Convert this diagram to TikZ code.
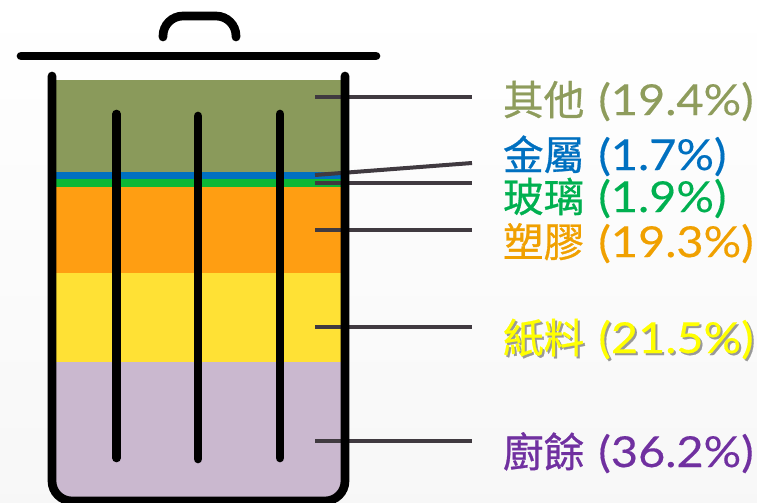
\documentclass[tikz,border=0pt]{standalone}
\usepackage{fontspec}
\newfontfamily\cjkf[FakeBold=0.7]{Noto Sans CJK TC}
\newfontfamily\latf[FakeBold=0.3,FakeStretch=1.1]{Lato}
\newcommand{\lbl}[2]{{\cjkf\fontsize{30.5pt}{30pt}\selectfont #1}\hspace{10.5pt}{\latf\fontsize{32pt}{32pt}\selectfont #2}}
\definecolor{lolive}{HTML}{8A9A5B}
\definecolor{lblue}{HTML}{0070C0}
\definecolor{lgreen}{HTML}{0DB735}
\definecolor{lorange}{HTML}{FF9E12}
\definecolor{lyellow}{HTML}{FFE135}
\definecolor{lpurple}{HTML}{CAB8CF}
\definecolor{tolive}{HTML}{8E9C5C}
\definecolor{tblue}{HTML}{0070C0}
\definecolor{tgreen}{HTML}{00B050}
\definecolor{torange}{HTML}{F0A000}
\definecolor{tyellow}{HTML}{FFFF00}
\definecolor{tpurple}{HTML}{7030A0}
\definecolor{leader}{HTML}{403A40}
\tikzset{
  canline/.style={line width=6.5pt,line cap=round,black},
  leaderline/.style={line width=3pt,leader},
  lab/.style={anchor=base west,inner sep=0pt,outer sep=0pt}
}
\begin{document}
\begin{tikzpicture}[x=0.75pt,y=-0.75pt]
\useasboundingbox (0,0) rectangle (757,503);
\clip (0,0) rectangle (757,503);
\shade[top color=white,bottom color=white!97!black] (0,0) rectangle (757,503);
% layers
\fill[lolive] (52,80) rectangle (345,172);
\fill[lblue] (52,172) rectangle (345,179);
\fill[lgreen] (52,179) rectangle (345,187);
\fill[lorange] (52,187) rectangle (345,273);
\fill[lyellow] (52,273) rectangle (345,362);
\fill[lpurple,rounded corners=15pt] (52,362) [sharp corners] -- (345,362) [rounded corners=15pt] -- (345,501) -- (52,501) [sharp corners] -- cycle;
% labels
\node[lab,text=tolive] (other) at (503,115) {\lbl{其他}{(19.4\%)}};
\node[lab,text=tblue] (metal) at (503,170) {\lbl{金屬}{(1.7\%)}};
\node[lab,text=tgreen] (glass) at (503,212) {\lbl{玻璃}{(1.9\%)}};
\node[lab,text=torange] (plastic) at (503,257) {\lbl{塑膠}{(19.3\%)}};
\node[lab,text=black!40] at (505,355) {\lbl{紙料}{(21.5\%)}};
\node[lab,text=tyellow] (paper) at (503,353) {\lbl{紙料}{(21.5\%)}};
\node[lab,text=tpurple] (food) at (503,467) {\lbl{廚餘}{(36.2\%)}};
% leader lines
\coordinate (a1) at (315,97);  \coordinate (b1) at (472,97);
\coordinate (a2) at (315,175); \coordinate (b2) at (472,163);
\coordinate (a3) at (315,182.5); \coordinate (b3) at (472,182.5);
\coordinate (a4) at (315,230); \coordinate (b4) at (472,230);
\coordinate (a5) at (315,327); \coordinate (b5) at (472,327);
\coordinate (a6) at (315,441); \coordinate (b6) at (472,441);
\foreach \i in {1,...,6} \draw[leaderline] (a\i) -- (b\i);
% can
\draw[canline,rounded corners=15pt] (52,76) -- (52,501) -- (345,501) -- (345,76);
\draw[canline] (116.5,114) -- (116.5,458);
\draw[canline] (198,116) -- (198,459);
\draw[canline] (280,114) -- (280,458);
% lid
\draw[canline] (21,56) -- (376,56);
\draw[canline,rounded corners=15pt] (163,37) -- (163,16) -- (236,16) -- (236,37);
\end{tikzpicture}
\end{document}
